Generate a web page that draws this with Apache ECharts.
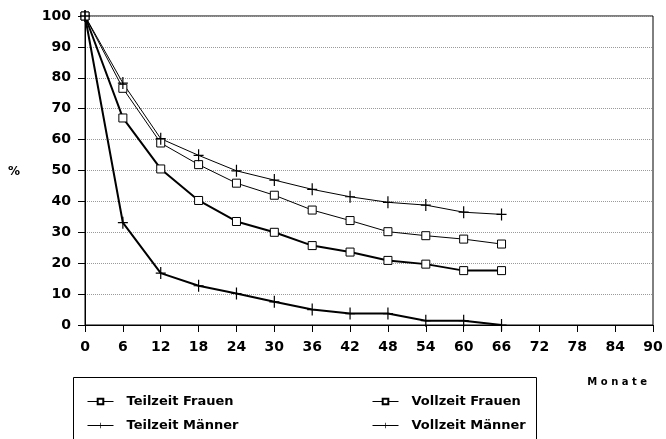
<!DOCTYPE html>
<html>
<head>
<meta charset="utf-8">
<script src="https://cdn.jsdelivr.net/npm/echarts@6/dist/echarts.min.js"></script>
<style>
html,body{margin:0;padding:0;background:#fff;}
#chart{width:666px;height:439px;}
</style>
</head>
<body>
<div id="chart"></div>
<script>
var months = [0, 6, 12, 18, 24, 30, 36, 42, 48, 54, 60, 66];
var teilzeitFrauen = [100, 67, 50.5, 40.3, 33.5, 30, 25.7, 23.6, 20.9, 19.7, 17.6, 17.6];
var vollzeitFrauen = [100, 76.6, 58.9, 51.9, 45.9, 42, 37.2, 33.8, 30.2, 28.9, 27.8, 26.2];
var teilzeitMaenner = [100, 33.1, 16.8, 12.7, 10.2, 7.5, 5, 3.7, 3.7, 1.4, 1.4, 0];
var vollzeitMaenner = [100, 78.3, 60.3, 54.9, 49.9, 46.9, 43.9, 41.5, 39.7, 38.8, 36.5, 35.8];
var yTicks = [0, 10, 20, 30, 40, 50, 60, 70, 80, 90, 100];

var fontName = 'DejaVu Sans';
var plusPath = 'path://M4.4,0H5.6V5.4H10V6.6H5.6V12H4.4V6.6H0V5.4H4.4Z';

function toPoints(vals){
    var pts = [];
    for(var i=0;i<vals.length;i++){
        pts.push([months[i], vals[i]]);
    }
    return pts;
}

function makeSeries(name, vals, thick, marker){
    var isBox = marker == 'box';
    return {
        name: name,
        type: 'line',
        data: toPoints(vals),
        symbol: isBox ? 'rect' : plusPath,
        symbolSize: isBox ? 8 : [10, 12],
        showAllSymbol: true,
        lineStyle: {color: '#000', width: thick ? 2 : 1},
        itemStyle: isBox ? {color: '#fff', borderColor: '#000', borderWidth: 1} : {color: '#000', borderWidth: 0},
        emphasis: {disabled: true},
        animation: false
    };
}

var chart = echarts.init(document.getElementById('chart'));
var legendBase = {
    orient: 'vertical',
    itemWidth: 26,
    itemHeight: 7,
    itemGap: 11,
    lineStyle: {width: 1},
    textStyle: {fontFamily: fontName, fontWeight: 'bold', fontSize: 13, color: '#000', padding: [0, 0, 0, 8]},
    selectedMode: false
};
var legendLeft = echarts.util.merge({data: ['Teilzeit Frauen', 'Teilzeit Männer'], left: 82, top: 390}, legendBase);
var legendRight = echarts.util.merge({data: ['Vollzeit Frauen', 'Vollzeit Männer'], left: 367, top: 390}, legendBase);

var option = {
    backgroundColor: '#fff',
    textStyle: {fontFamily: fontName},
    grid: {left: 85, right: 13, top: 16, bottom: 114, show: true, borderColor: '#000', borderWidth: 1},
    legend: [legendLeft, legendRight],
    xAxis: {
        type: 'value',
        min: 0,
        max: 90,
        interval: 6,
        name: 'M o n a t e',
        nameLocation: 'end',
        nameGap: 0,
        nameTextStyle: {fontFamily: fontName, fontWeight: 'bold', fontSize: 10, color: '#000', align: 'right', verticalAlign: 'top', padding: [52, 6, 0, 0]},
        axisLine: {lineStyle: {color: '#000', width: 1}},
        axisTick: {show: true, length: 7, lineStyle: {color: '#000'}},
        axisLabel: {fontFamily: fontName, fontWeight: 'bold', fontSize: 14, color: '#000', margin: 15},
        splitLine: {show: false}
    },
    yAxis: {
        type: 'value',
        min: 0,
        max: 100,
        interval: 10,
        axisLine: {show: true, lineStyle: {color: '#000', width: 1}},
        axisTick: {show: true, length: 7, lineStyle: {color: '#000'}},
        axisLabel: {fontFamily: fontName, fontWeight: 'bold', fontSize: 14, color: '#000', margin: 14,
            customValues: yTicks},
        splitLine: {show: true, lineStyle: {color: '#9a9a9a', type: 'dotted', width: 1}}
    },
    graphic: [
        {type: 'text', left: 8, top: 166, style: {text: '%', fontFamily: fontName, fontWeight: 'bold', fontSize: 12, fill: '#000'}},
        {type: 'rect', shape: {x: 73.5, y: 377.5, width: 463, height: 80}, style: {fill: 'none', stroke: '#000', lineWidth: 1}, z: -1}
    ],
    series: [
        makeSeries('Teilzeit Frauen', teilzeitFrauen, true, 'box'),
        makeSeries('Vollzeit Frauen', vollzeitFrauen, false, 'box'),
        makeSeries('Teilzeit Männer', teilzeitMaenner, true, 'plus'),
        makeSeries('Vollzeit Männer', vollzeitMaenner, false, 'plus')
    ]
};
chart.setOption(option);
</script>
</body>
</html>
